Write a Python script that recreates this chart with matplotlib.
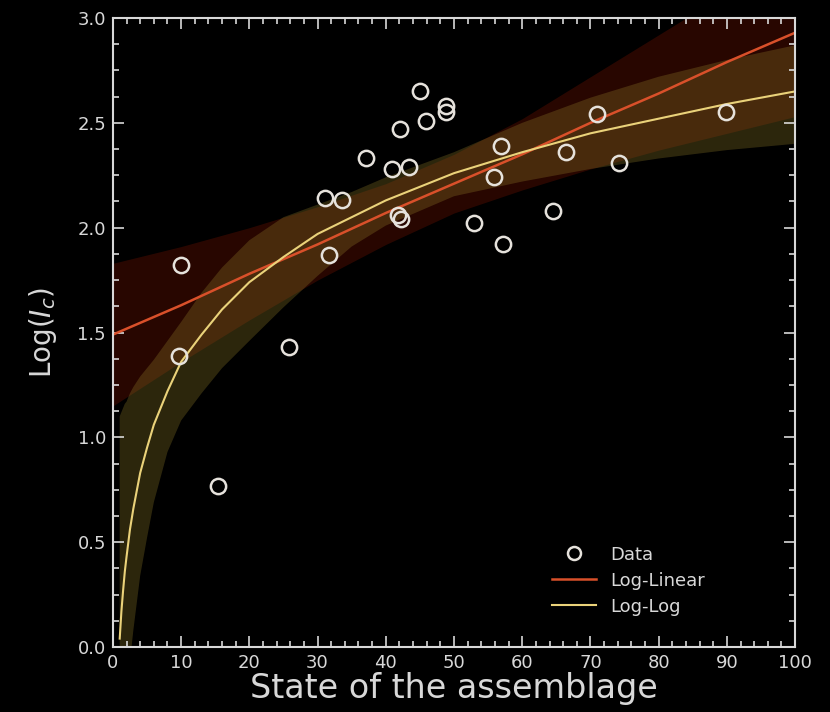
import matplotlib
matplotlib.use("Agg")
import matplotlib.pyplot as plt
from matplotlib.ticker import MultipleLocator

plt.rcParams['font.family'] = ['DejaVu Sans']
plt.rcParams['mathtext.fontset'] = 'dejavusans'

# observations
state = [10, 9.7, 15.4, 25.8, 31.1, 33.6, 31.7, 37.1, 40.9, 43.4, 42.1, 41.8, 42.2,
         45.0, 45.9, 48.8, 48.8, 52.9, 55.9, 56.9, 57.2, 64.5, 66.4, 71.0, 74.2, 89.9]
log_ic = [1.82, 1.39, 0.77, 1.43, 2.14, 2.13, 1.87, 2.33, 2.28, 2.29, 2.47, 2.06, 2.04,
          2.65, 2.51, 2.58, 2.55, 2.02, 2.24, 2.39, 1.92, 2.08, 2.36, 2.54, 2.31, 2.55]

# log-linear fit and its band
lin_x = [0, 10, 20, 30, 40, 50, 60, 70, 80, 90, 100]
lin_y = [1.49, 1.63, 1.78, 1.92, 2.07, 2.21, 2.35, 2.50, 2.64, 2.79, 2.93]
lin_lo = [1.15, 1.36, 1.56, 1.75, 1.92, 2.07, 2.18, 2.28, 2.37, 2.45, 2.53]
lin_hi = [1.83, 1.91, 2.00, 2.10, 2.21, 2.35, 2.52, 2.72, 2.92, 3.12, 3.33]

# log-log fit and its band
log_x = [1, 1.25, 1.5, 1.75, 2, 2.5, 3, 4, 5, 6, 8, 10, 13, 16, 20, 25, 30, 35, 40,
         50, 60, 70, 80, 90, 100]
log_y = [0.04, 0.17, 0.27, 0.36, 0.43, 0.56, 0.66, 0.83, 0.95, 1.06, 1.22, 1.36, 1.49,
         1.61, 1.74, 1.86, 1.97, 2.05, 2.13, 2.26, 2.36, 2.45, 2.52, 2.59, 2.65]
log_hi = [1.10, 1.12, 1.14, 1.16, 1.17, 1.21, 1.24, 1.29, 1.33, 1.37, 1.46, 1.55, 1.69,
          1.81, 1.94, 2.05, 2.11, 2.17, 2.24, 2.36, 2.50, 2.62, 2.72, 2.80, 2.87]
log_lo = [-1.0, -0.8, -0.6, -0.45, -0.30, -0.07, 0.08, 0.34, 0.52, 0.69, 0.93, 1.08,
          1.21, 1.33, 1.46, 1.62, 1.77, 1.91, 2.01, 2.15, 2.22, 2.28, 2.33, 2.37, 2.40]

red = '#d9502a'
yel = '#ead27a'
fg = '#d8d8d8'

fig = plt.figure(figsize=(8.3, 7.12), dpi=100, facecolor='black')
ax = fig.add_axes([0.136, 0.0913, 0.822, 0.8834], facecolor='black')

ax.fill_between(lin_x, lin_lo, lin_hi, color='#cc2000', alpha=0.2, lw=0)
ax.fill_between(log_x, log_lo, log_hi, color='#8c7828', alpha=0.32, lw=0)
ax.plot(lin_x, lin_y, color=red, lw=1.8, label='Log-Linear')
ax.plot(log_x, log_y, color=yel, lw=1.5, label='Log-Log')
ax.plot(state, log_ic, 'o', mfc='none', mec='#e6e2dc', mew=1.8, ms=11, label='Data')

ax.set_xlim(0, 100)
ax.set_ylim(0, 3)
ax.xaxis.set_major_locator(MultipleLocator(10))
ax.xaxis.set_minor_locator(MultipleLocator(2))
ax.yaxis.set_major_locator(MultipleLocator(0.5))
ax.yaxis.set_minor_locator(MultipleLocator(0.125))
ax.tick_params(which='both', direction='in', top=True, right=True, colors=fg,
               labelsize=13, width=1.2)
ax.tick_params(which='major', length=8, pad=5)
ax.tick_params(which='minor', length=4)
for s in ax.spines.values():
    s.set_color(fg)
    s.set_linewidth(1.5)

ax.set_xlabel('State of the assemblage', color=fg, fontsize=24, labelpad=0)
ax.set_ylabel(r'Log($I_c$)', color=fg, fontsize=20, labelpad=13)

h, l = ax.get_legend_handles_labels()
leg = ax.legend([h[2], h[0], h[1]], [l[2], l[0], l[1]], loc='lower left',
                bbox_to_anchor=(0.644, 0.05), borderaxespad=0, borderpad=0,
                frameon=False, fontsize=13, labelcolor=fg, handlelength=2.4,
                handletextpad=0.8, labelspacing=0.44, markerscale=0.85)

fig.savefig('out.png', dpi=100, facecolor='black')
